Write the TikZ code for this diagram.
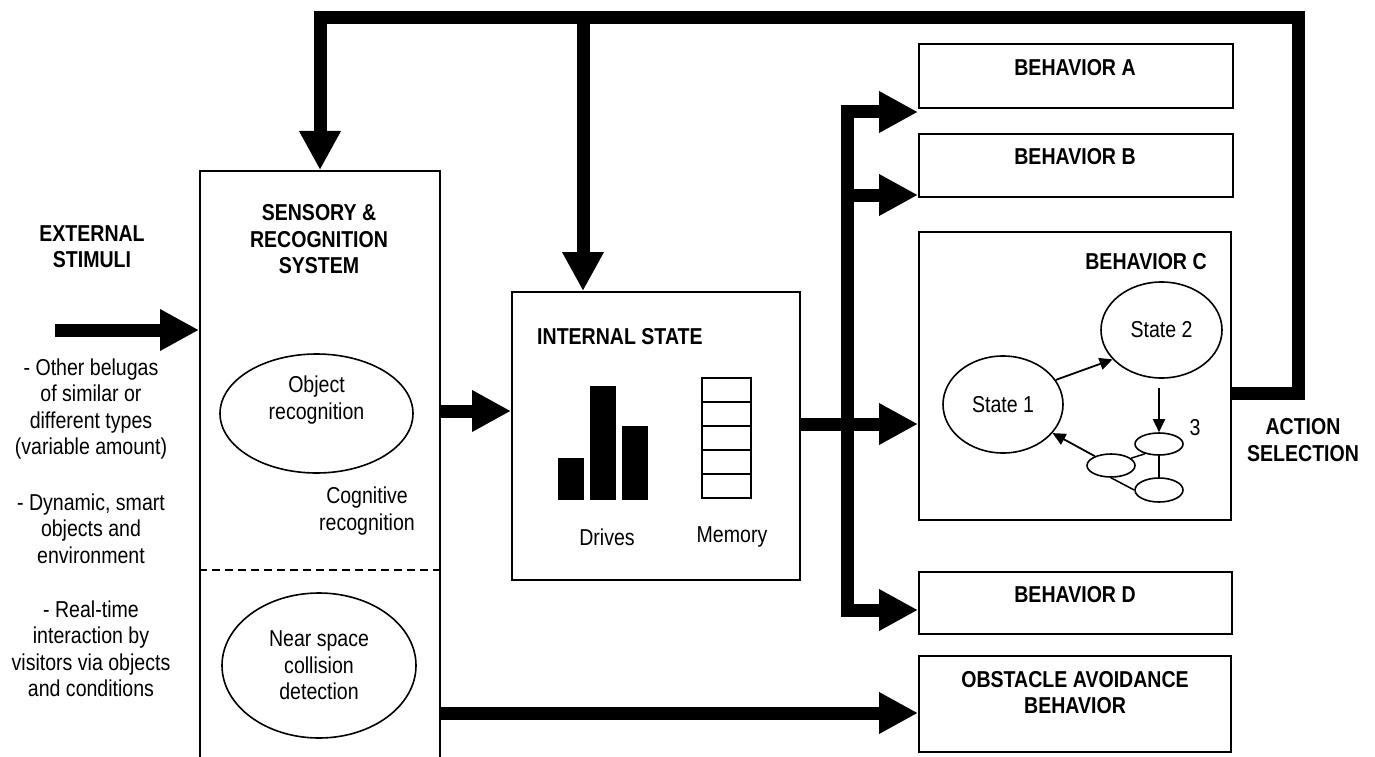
\documentclass[tikz,border=0pt]{standalone}
\usepackage{fontspec}
\setmainfont{Liberation Sans}[FakeStretch=0.85]
\usetikzlibrary{shapes.geometric,arrows.meta}
\begin{document}
\begin{tikzpicture}[x=1pt,y=-1pt,
  txt/.style={font=\fontsize{23}{26.5}\selectfont, align=center, inner sep=0pt},
  btxt/.style={font=\fontsize{23}{26.5}\selectfont\bfseries, align=center, inner sep=0pt},
  box/.style={draw, line width=2pt, inner sep=0pt, anchor=north west},
  oval/.style={draw, ellipse, line width=1.6pt, inner sep=0pt},
  fat/.style={line width=13pt},
  fatarrow/.style={line width=13pt, -{Triangle[length=39pt 0, width=39pt 0]}},
  thinarrow/.style={line width=1.8pt, -{Triangle[length=13pt 0, width=12pt 0]}},
  cell/.style={line width=2pt}
]
\useasboundingbox (0,0) rectangle (1375,757);

% ---------- left column ----------
\node[btxt] (ext) at (92,246.5) {EXTERNAL\\STIMULI};
\node[txt] (t1) at (91,409) {- Other belugas\\of similar or\\different types\\(variable amount)};
\node[txt] (t2) at (91,528.5) {- Dynamic, smart\\objects and\\environment};
\node[txt] (t3) at (91,649) {- Real-time\\interaction by\\visitors via objects\\and conditions};

% ---------- sensory system ----------
\node[box, minimum width=240pt, minimum height=620pt] (sens) at (199,170) {};
\node[btxt] (senst) at (319,239.5) {SENSORY \&\\RECOGNITION\\SYSTEM};
\node[oval, minimum width=193pt, minimum height=119pt] (objrec) at (316.5,413.5) {};
\node[txt] (objrect) at (316.5,400) {Object\\recognition};
\node[txt] (cogn) at (367,511) {Cognitive\\recognition};
\coordinate (y570) at (0,570);
\draw[dashed, dash pattern=on 8pt off 5pt, line width=1.5pt] (sens.west |- y570) -- (sens.east |- y570);
\node[oval, txt, minimum width=194pt, minimum height=145pt] (near) at (319,665.5) {Near space\\collision\\detection};

% ---------- internal state ----------
\node[box, minimum width=288pt, minimum height=288pt] (intern) at (511,291) {};
\node[btxt, anchor=west] (internt) at (537,337) {INTERNAL STATE};
\fill (558,458) rectangle (584,500);
\fill (590,386) rectangle (616,500);
\fill (622,426) rectangle (648,500);
\foreach \i in {0,...,4} \draw[cell] (702,{378+24*\i}) rectangle (751,{402+24*\i});
\node[txt] (drives) at (607,537) {Drives};
\node[txt] (memory) at (732,537) {Memory};

% ---------- behaviors ----------
\node[box, minimum width=314pt, minimum height=64pt] (A) at (918,43) {};
\node[btxt] (At) at (1075,68) {BEHAVIOR A};
\node[box, minimum width=314pt, minimum height=63pt] (B) at (918,133) {};
\node[btxt] (Bt) at (1075,157) {BEHAVIOR B};
\node[box, minimum width=312pt, minimum height=288pt] (C) at (918,231) {};
\node[btxt] (Ct) at (1146,262) {BEHAVIOR C};
\node[box, minimum width=313pt, minimum height=62pt] (D) at (918,571) {};
\node[btxt] (Dt) at (1075,595) {BEHAVIOR D};
\node[box, minimum width=312pt, minimum height=96pt] (obst) at (918,655) {};
\node[btxt] (obstt) at (1075,692.5) {OBSTACLE AVOIDANCE\\BEHAVIOR};

% states inside behavior C
\node[oval, txt, minimum width=120pt, minimum height=97pt] (s1) at (1003,404.5) {State 1};
\node[oval, txt, minimum width=121pt, minimum height=96pt] (s2) at (1161.5,330) {State 2};
\node[oval, minimum width=48pt, minimum height=22pt] (e3) at (1159,444) {};
\node[oval, minimum width=48pt, minimum height=23pt] (e4) at (1111,465.5) {};
\node[oval, minimum width=48pt, minimum height=24pt] (e5) at (1159,490) {};
\node[txt] (n3) at (1195,428) {3};
\draw[thinarrow] (s1.25) -- (s2.211);
\coordinate (s2b) at ([yshift=-9pt]s2.south);
\draw[thinarrow] (s2b -| e3.north) -- (e3.north);
\draw[thinarrow] (e4.150) -- (s1.330);
\draw[line width=1.5pt] (e3.215) -- (e4.20);
\draw[line width=1.5pt] (e3.south) -- (e5.north);
\draw[line width=1.5pt] (e4.south) -- (e5.west);

\node[btxt] (act) at (1303,440) {ACTION\\SELECTION};

% ---------- thick connectors ----------
\coordinate (stim) at (55,330);
\draw[fatarrow] (stim) -- (stim -| sens.west);

\coordinate (y411) at (0,411);
\draw[fatarrow] (sens.east |- y411) -- (intern.west |- y411);

\coordinate (y424) at (0,424);
\draw[fatarrow] (intern.east |- y424) -- (C.west |- y424);

\coordinate (busT) at (847,112);
\coordinate (busB) at (847,610);
\draw[fat] ([yshift=6.5pt]busT) -- ([yshift=-6.5pt]busB);
\draw[fatarrow] ([xshift=-6.5pt]busT) -- (busT -| A.west);
\coordinate (yB) at (0,195);
\draw[fatarrow] ([xshift=-6.5pt]busT |- yB) -- (B.west |- yB);
\draw[fatarrow] ([xshift=-6.5pt]busB) -- (busB -| D.west);

\coordinate (y393) at (0,393);
\coordinate (topR) at (1298,17.5);
\draw[fatarrow, line join=miter] (C.east |- y393) -| (topR) -| (sens.north);
\coordinate (dropI) at (583,17.5);
\draw[fatarrow] (dropI) -- (dropI |- intern.north);

\coordinate (y713) at (0,713);
\draw[fatarrow] (sens.east |- y713) -- (obst.west |- y713);
\end{tikzpicture}
\end{document}
